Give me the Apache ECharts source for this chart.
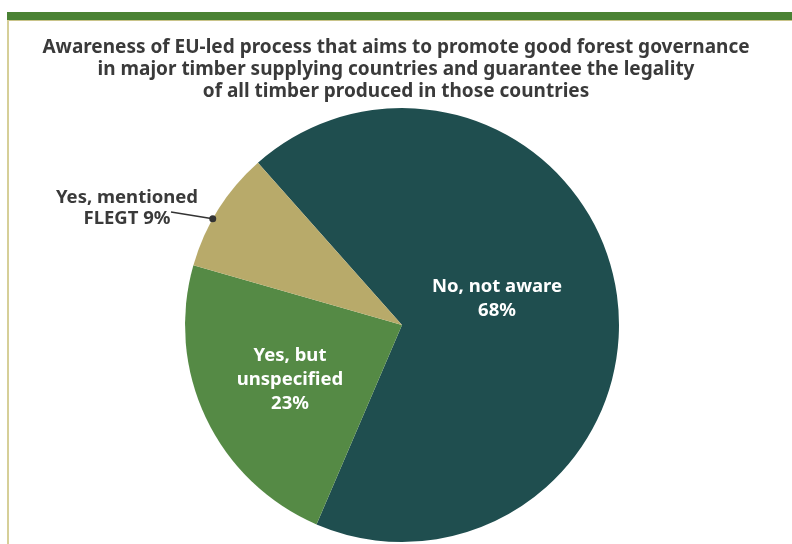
<!DOCTYPE html>
<html><head><meta charset="utf-8">
<script src="https://cdn.jsdelivr.net/npm/echarts@6/dist/echarts.min.js"></script>
<style>html,body{margin:0;padding:0;background:#fff}#c{width:792px;height:544px}</style>
</head><body><div id="c"></div>
<script>
const titleLines = ['Awareness of EU-led process that aims to promote good forest governance','in major timber supplying countries and guarantee the legality','of all timber produced in those countries'];
const categories = ['No, not aware', 'Yes, but\nunspecified', 'Yes, mentioned\nFLEGT'];
const values = [68, 23, 9];
const colors = ['#1f4e4f', '#558a45', '#b8aa6a'];

const CX = 402, CY = 325, R = 217, START = 131.6;
const chart = echarts.init(document.getElementById('c'));
const FONT = '"Noto Sans", sans-serif';

// anchor point of the FLEGT leader line on the slice edge (derived from data)
const total = values.reduce((a, b) => a + b, 0);
const s2 = START - (values[0] + values[1]) / total * 360;
const aDot = (s2 - 0.41 * values[2] / total * 360) * Math.PI / 180;
const dotPt = [CX + R * Math.cos(aDot), CY - R * Math.sin(aDot)];

chart.setOption({
  backgroundColor: '#ffffff',
  animation: false,
  title: {
    text: titleLines.join('\n'), left: 'center', top: 32,
    textStyle: { fontFamily: FONT, fontWeight: 'bold', fontSize: 19, lineHeight: 22, color: '#3a3a3a' }
  },
  graphic: [
    { type: 'rect', shape: { x: 7, y: 12, width: 785, height: 8 }, style: { fill: '#4a8234' } },
    { type: 'rect', shape: { x: 7, y: 20, width: 785, height: 1 }, style: { fill: '#c9c48a' } },
    { type: 'rect', shape: { x: 7, y: 20, width: 2, height: 524 }, style: { fill: '#d6cf98' } },
    { type: 'circle', shape: { cx: dotPt[0], cy: dotPt[1], r: 3.5 }, style: { fill: '#333' }, z: 100 }
  ],
  series: [{
    type: 'pie',
    center: [CX, CY],
    radius: R,
    startAngle: START,
    clockwise: true,
    data: categories.map((c, i) => ({
      name: c, value: values[i], itemStyle: { color: colors[i] },
      label: i < 2 ? { position: 'inside', color: '#ffffff', lineHeight: 24 } : { position: 'outside', color: '#3a3a3a', lineHeight: 21 },
      labelLine: i < 2 ? { show: false } : { show: true, length: 4, length2: 40, lineStyle: { color: '#333', width: 1.5 } }
    })),
    label: {
      fontFamily: FONT, fontWeight: 'bold', fontSize: 18.5, align: 'center',
      formatter: p => p.name + (p.dataIndex === 2 ? ' ' : '\n') + p.value + '%'
    },
    labelLayout: function (p) {
      if (p.dataIndex === 0) return { x: 497, y: 299, align: 'center', verticalAlign: 'middle' };
      if (p.dataIndex === 1) return { x: 290, y: 380, align: 'center', verticalAlign: 'middle' };
      return { x: 127, y: 208, align: 'center', verticalAlign: 'middle',
               labelLinePoints: [dotPt, [171, 212], [171, 212]] };
    },
    emphasis: { disabled: true }
  }]
});
</script></body></html>
